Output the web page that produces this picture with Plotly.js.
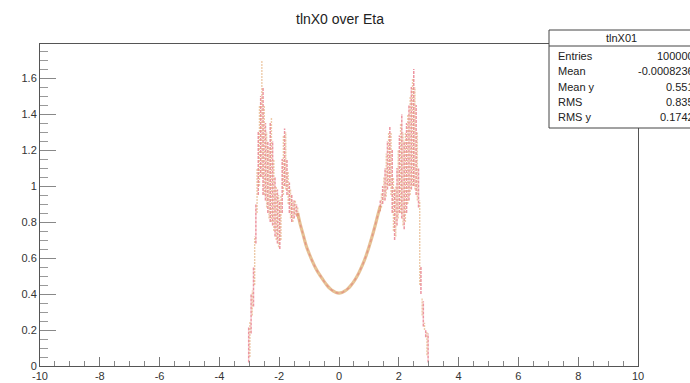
<!DOCTYPE html>
<html>
<head>
<meta charset="utf-8">
<script src="https://cdn.plot.ly/plotly-3.0.1.min.js"></script>
<style>html,body{margin:0;padding:0;background:#fff;}#chart{width:690px;height:383px;}</style>
</head>
<body>
<div id="chart"></div>
<script>
// Left forward region (eta, lower edge, upper edge of scatter spread)
const etaLeft = [-3.02,-2.98,-2.94,-2.90,-2.86,-2.82,-2.78,-2.74,-2.70,-2.66,-2.62,-2.58,-2.54,-2.50,-2.46,-2.42,-2.38,-2.34,-2.30,-2.26,-2.22,-2.18,-2.14,-2.10,-2.06,-2.02,-1.98,-1.94,-1.90,-1.86,-1.82,-1.78,-1.74,-1.70,-1.66,-1.62,-1.58,-1.54,-1.50,-1.46,-1.42,-1.38];
const loLeft  = [0.02,0.05,0.18,0.28,0.33,0.45,0.68,0.85,0.95,1.00,1.05,1.05,0.95,0.95,0.92,0.88,0.85,0.82,0.80,0.80,0.78,0.75,0.72,0.70,0.68,0.66,0.65,0.70,0.85,0.95,1.00,0.98,0.95,0.90,0.85,0.82,0.80,0.80,0.82,0.84,0.83,0.82];
const hiLeft  = [0.22,0.25,0.40,0.42,0.55,0.72,0.90,1.10,1.30,1.45,1.50,1.70,1.55,1.45,1.35,1.30,1.25,1.22,1.35,1.38,1.25,1.15,1.05,1.00,0.98,0.95,0.92,0.95,1.15,1.28,1.32,1.30,1.15,1.08,1.02,0.98,0.95,0.92,0.92,0.92,0.90,0.88];

// Central smooth region
const etaMid = [-1.38,-1.3,-1.2,-1.1,-1.0,-0.9,-0.8,-0.7,-0.6,-0.5,-0.4,-0.3,-0.2,-0.1,0,0.1,0.2,0.3,0.4,0.5,0.6,0.7,0.8,0.9,1.0,1.1,1.2,1.3,1.38];
const yMid   = [0.85,0.79,0.73,0.67,0.625,0.585,0.55,0.52,0.495,0.47,0.448,0.43,0.417,0.408,0.405,0.408,0.417,0.43,0.448,0.47,0.497,0.53,0.567,0.61,0.66,0.715,0.775,0.84,0.89];

// Right forward region
const etaRight = [1.38,1.42,1.46,1.50,1.54,1.58,1.62,1.66,1.70,1.74,1.78,1.82,1.86,1.90,1.94,1.98,2.02,2.06,2.10,2.14,2.18,2.22,2.26,2.30,2.34,2.38,2.42,2.46,2.50,2.54,2.58,2.62,2.66,2.70,2.74,2.78,2.82,2.86,2.90,2.94,2.98];
const loRight  = [0.86,0.88,0.90,0.92,0.92,0.94,0.98,1.00,1.00,0.95,0.85,0.75,0.70,0.72,0.78,0.82,0.85,0.85,0.82,0.78,0.76,0.80,0.85,0.90,0.92,0.95,0.98,1.00,1.00,0.98,0.95,0.92,0.88,0.45,0.40,0.28,0.22,0.20,0.16,0.06,0.02];
const hiRight  = [0.92,0.96,1.00,1.05,1.10,1.18,1.25,1.30,1.33,1.30,1.20,1.05,0.98,1.00,1.10,1.20,1.28,1.35,1.40,1.30,1.25,1.30,1.35,1.40,1.45,1.50,1.55,1.60,1.65,1.55,1.45,1.30,1.10,0.92,0.55,0.38,0.36,0.24,0.20,0.19,0.18];

const statLabels = ["Entries","Mean","Mean y","RMS","RMS y"];
const statValues = ["100000","-0.0008236","0.551","0.835","0.1742"];

function segs(eta, lo, hi, parity){
  const x=[], y=[];
  for(let i=0;i<eta.length;i++){
    if(i%2!==parity) continue;
    x.push(eta[i],eta[i],null); y.push(lo[i],hi[i],null);
  }
  return {x,y};
}
const traces=[];
[[etaLeft,loLeft,hiLeft],[etaRight,loRight,hiRight]].forEach(([e,l,h])=>{
  const a=segs(e,l,h,0), b=segs(e,l,h,1);
  traces.push({x:a.x,y:a.y,mode:'lines',type:'scatter',line:{color:'rgba(226,85,105,0.62)',width:1.5,dash:'3px,1px'},hoverinfo:'skip',showlegend:false});
  traces.push({x:b.x,y:b.y,mode:'lines',type:'scatter',line:{color:'rgba(222,160,100,0.55)',width:1.4,dash:'2px,1px'},hoverinfo:'skip',showlegend:false});
});
traces.push({x:etaMid,y:yMid,mode:'lines',type:'scatter',line:{color:'rgba(222,172,112,0.75)',width:3.2,shape:'spline'},hoverinfo:'skip',showlegend:false});
traces.push({x:etaMid,y:yMid,mode:'lines',type:'scatter',line:{color:'rgba(228,100,120,0.45)',width:1.4,dash:'dot',shape:'spline'},hoverinfo:'skip',showlegend:false});

const L=40,R=638,T=44,B=366;
const px=v=>(v-L)/(R-L), py=v=>(B-v)/(B-T);

const ann=[{text:'tlnX0 over Eta',xref:'paper',yref:'paper',x:px(340),y:py(19),xanchor:'center',yanchor:'middle',showarrow:false,font:{family:'Liberation Sans, Arial, sans-serif',size:14,color:'#222'}},
{text:'tlnX01',xref:'paper',yref:'paper',x:px(621),y:py(38),xanchor:'center',yanchor:'middle',showarrow:false,font:{family:'Liberation Sans, Arial, sans-serif',size:11,color:'#222'}}];
statLabels.forEach((s,i)=>{
  const yy=56+i*15.3;
  ann.push({text:s,xref:'paper',yref:'paper',x:px(556),y:py(yy),xanchor:'left',yanchor:'middle',showarrow:false,font:{family:'Liberation Sans, Arial, sans-serif',size:11,color:'#222'}});
  ann.push({text:statValues[i],xref:'paper',yref:'paper',x:px(696),y:py(yy),xanchor:'right',yanchor:'middle',showarrow:false,font:{family:'Liberation Sans, Arial, sans-serif',size:11,color:'#222'}});
});

const layout={
  width:690,height:383,
  margin:{l:L,r:690-R,t:T,b:383-B},
  paper_bgcolor:'#fff',plot_bgcolor:'#fff',
  showlegend:false,
  font:{family:'Liberation Sans, Arial, sans-serif',size:11,color:'#333'},
  xaxis:{range:[-10,10],showgrid:false,zeroline:false,showline:true,mirror:true,linecolor:'#555',linewidth:1,
    tickmode:'array',tickvals:[-10,-8,-6,-4,-2,0,2,4,6,8,10],ticktext:['-10','-8','-6','-4','-2','0','2','4','6','8','10'],
    ticks:'inside',ticklen:9,tickcolor:'#777',tickfont:{size:11,color:'#333'},
    minor:{dtick:0.5,tick0:0,ticks:'inside',ticklen:5,tickcolor:'#888'}},
  yaxis:{range:[0,(B-T)/180],showgrid:false,zeroline:false,showline:true,mirror:true,linecolor:'#555',linewidth:1,
    tickmode:'array',tickvals:[0,0.2,0.4,0.6,0.8,1,1.2,1.4,1.6],ticktext:['0','0.2','0.4','0.6','0.8','1','1.2','1.4','1.6'],
    ticks:'inside',ticklen:16,tickcolor:'#888',tickfont:{size:11,color:'#333'},
    minor:{dtick:0.05,tick0:0,ticks:'inside',ticklen:8,tickcolor:'#999'}},
  shapes:[
    {type:'rect',xref:'paper',yref:'paper',x0:px(549),x1:px(720),y0:py(128),y1:py(30),fillcolor:'#fff',line:{color:'#444',width:1},layer:'above'},
    {type:'line',xref:'paper',yref:'paper',x0:px(549),x1:px(720),y0:py(46),y1:py(46),line:{color:'#444',width:1},layer:'above'}
  ],
  annotations:ann
};
Plotly.newPlot('chart',traces,layout,{staticPlot:true,displayModeBar:false});
</script>
</body>
</html>
